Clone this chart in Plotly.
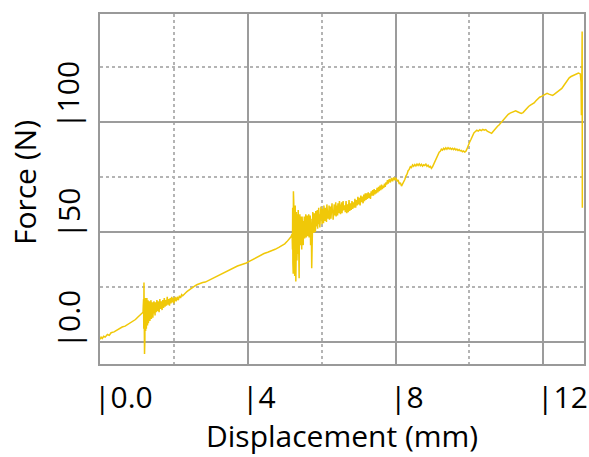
import plotly.graph_objects as go

# Force–displacement record, as (displacement mm, force N) pairs, split by test phase
preload = [
    (0.00, 1.2), (0.03, 2.2), (0.06, 1.6), (0.10, 2.6), (0.14, 2.2), (0.20, 3.4), (0.25, 3.0), (0.30, 4.2),
    (0.38, 4.6), (0.45, 5.4), (0.52, 5.9), (0.60, 6.8), (0.68, 7.2), (0.75, 7.9), (0.82, 8.6), (0.90, 9.6),
    (0.96, 10.2), (1.02, 11.2), (1.08, 12.0), (1.13, 12.8), (1.16, 13.2),
]

first_slip = [
    (1.165, 13.5), (1.17, 16.0), (1.175, 9.0), (1.18, 19.5), (1.185, 6.0), (1.19, 27.0), (1.195, 2.0),
    (1.20, 23.0), (1.205, -5.5), (1.21, 21.0), (1.215, 1.0), (1.22, 19.0), (1.225, 6.5), (1.23, 20.0),
    (1.235, 5.0), (1.24, 18.5), (1.245, 7.5), (1.25, 19.5), (1.255, 6.0), (1.26, 17.0), (1.265, 8.5),
    (1.27, 20.0), (1.275, 9.0), (1.28, 16.5), (1.285, 7.5), (1.29, 18.0), (1.295, 10.0), (1.30, 19.0),
    (1.31, 8.5), (1.32, 17.5), (1.33, 10.5), (1.34, 18.5), (1.35, 9.5), (1.36, 16.0), (1.37, 11.5),
    (1.38, 19.0), (1.39, 10.5), (1.40, 17.0), (1.41, 12.0), (1.42, 18.0), (1.43, 11.0), (1.44, 17.5),
    (1.45, 12.5), (1.46, 18.5), (1.47, 13.0), (1.48, 16.5), (1.49, 12.0), (1.50, 18.0), (1.51, 15.0),
    (1.52, 13.5), (1.53, 17.0), (1.54, 19.0), (1.55, 15.5), (1.56, 14.0), (1.57, 18.5), (1.58, 17.5),
    (1.59, 16.0), (1.60, 13.5), (1.61, 17.5), (1.62, 19.5), (1.63, 16.5), (1.64, 15.0), (1.65, 17.0),
    (1.66, 18.5), (1.67, 16.0), (1.68, 14.5), (1.69, 18.0), (1.70, 19.0), (1.71, 17.0), (1.72, 15.5),
    (1.73, 18.0), (1.74, 20.0), (1.75, 18.5), (1.76, 16.0), (1.77, 17.5), (1.78, 19.0), (1.79, 18.0),
    (1.80, 16.5), (1.82, 20.5), (1.84, 17.0), (1.86, 19.5), (1.88, 16.5), (1.90, 20.0), (1.92, 17.5),
    (1.94, 20.5), (1.96, 18.0), (1.98, 20.0), (2.00, 17.5), (2.03, 20.5), (2.06, 18.5), (2.09, 20.5),
    (2.12, 19.0), (2.15, 21.0), (2.18, 20.0), (2.21, 21.5), (2.24, 21.0), (2.28, 22.0),
]

ramp = [
    (2.32, 22.4), (2.36, 23.0), (2.42, 23.8), (2.48, 24.6), (2.55, 25.3), (2.62, 26.0), (2.70, 26.6),
    (2.78, 27.0), (2.85, 27.2), (2.92, 27.8), (3.00, 28.4), (3.08, 29.0), (3.16, 29.8), (3.24, 30.6),
    (3.32, 31.4), (3.40, 32.0), (3.48, 32.8), (3.56, 33.4), (3.64, 33.9), (3.72, 34.5), (3.80, 35.0),
    (3.88, 35.4), (3.96, 35.9), (4.04, 36.6), (4.14, 37.5), (4.24, 38.6), (4.34, 39.4), (4.44, 40.2),
    (4.54, 40.8), (4.64, 41.3), (4.74, 42.1), (4.84, 43.0), (4.92, 43.8), (5.00, 44.6), (5.06, 45.6),
    (5.12, 46.6), (5.17, 47.8),
]

second_slip = [
    (5.20, 49.0), (5.205, 56.0), (5.21, 42.0), (5.215, 61.0), (5.22, 36.0), (5.225, 66.0), (5.23, 31.0),
    (5.235, 68.5), (5.24, 38.0), (5.245, 63.0), (5.25, 34.0), (5.255, 60.0), (5.26, 40.0), (5.265, 58.0),
    (5.27, 30.0), (5.275, 57.0), (5.28, 42.0), (5.285, 62.0), (5.29, 44.0), (5.295, 55.0), (5.30, 27.5),
    (5.305, 54.0), (5.31, 41.0), (5.315, 59.0), (5.32, 45.0), (5.325, 56.0), (5.33, 37.0), (5.335, 57.0),
    (5.34, 46.0), (5.345, 55.0), (5.35, 43.0), (5.355, 58.0), (5.36, 40.0), (5.365, 60.0), (5.37, 46.0),
    (5.375, 52.0), (5.38, 44.0), (5.385, 56.0), (5.39, 29.0), (5.395, 53.0), (5.40, 47.0), (5.41, 58.0),
    (5.42, 44.0), (5.43, 57.0), (5.44, 45.0), (5.45, 55.0), (5.46, 42.0), (5.47, 57.0), (5.48, 46.0),
    (5.49, 56.5), (5.50, 44.0), (5.51, 55.0), (5.52, 48.5), (5.53, 57.0), (5.54, 47.0), (5.55, 55.5),
    (5.56, 48.0), (5.57, 58.0), (5.58, 47.5), (5.59, 56.0), (5.60, 49.0), (5.61, 57.5),
    (5.62, 48.0), (5.63, 55.5), (5.64, 51.0), (5.65, 58.0), (5.66, 47.5), (5.67, 54.0), (5.68, 52.0),
    (5.69, 57.5), (5.70, 44.0), (5.71, 56.0), (5.72, 50.5), (5.73, 33.5), (5.74, 55.0), (5.75, 51.5),
    (5.76, 59.0), (5.77, 53.0), (5.78, 55.5), (5.79, 49.5), (5.80, 58.5), (5.81, 54.0), (5.82, 56.0),
    (5.83, 50.0), (5.84, 59.5), (5.85, 52.5), (5.86, 57.0), (5.87, 55.5), (5.88, 60.0), (5.89, 51.5),
    (5.90, 56.5), (5.91, 54.0), (5.92, 61.0), (5.93, 53.5), (5.94, 58.0), (5.95, 52.0), (5.96, 57.5),
    (5.97, 55.0), (5.98, 61.5), (5.99, 56.0), (6.00, 58.5), (6.01, 53.5), (6.02, 60.5), (6.03, 57.0),
    (6.04, 59.0), (6.05, 54.0), (6.06, 62.0), (6.07, 56.5), (6.08, 58.0), (6.09, 55.0), (6.10, 61.0),
    (6.11, 57.5), (6.12, 59.5), (6.13, 54.5), (6.14, 62.5), (6.15, 57.0), (6.16, 60.0), (6.17, 56.0),
    (6.18, 59.0), (6.19, 57.5), (6.20, 62.0), (6.21, 55.5), (6.22, 60.5), (6.23, 58.0), (6.24, 61.5),
    (6.25, 56.0), (6.26, 59.5), (6.27, 57.0), (6.28, 63.0), (6.29, 58.5), (6.30, 60.0), (6.31, 55.5),
    (6.32, 61.5), (6.33, 59.0), (6.34, 62.5), (6.35, 57.5), (6.36, 60.5), (6.37, 58.0), (6.38, 63.5),
    (6.39, 57.0), (6.40, 61.0), (6.41, 59.5), (6.42, 62.0), (6.43, 57.5), (6.44, 63.0), (6.45, 59.0),
    (6.46, 61.5), (6.47, 58.5), (6.48, 64.0), (6.49, 59.5), (6.50, 61.5), (6.51, 58.0), (6.52, 62.5),
    (6.53, 60.0), (6.54, 63.5), (6.55, 58.5), (6.56, 61.0), (6.57, 59.5), (6.58, 64.0), (6.59, 60.0),
    (6.60, 62.0), (6.62, 61.5), (6.64, 59.0), (6.66, 64.0), (6.68, 58.5), (6.70, 62.5), (6.72, 59.0),
    (6.74, 64.5), (6.76, 59.5), (6.78, 63.0), (6.80, 60.0), (6.82, 64.0), (6.84, 60.5), (6.86, 63.5),
    (6.88, 61.0), (6.90, 65.0), (6.92, 61.0), (6.94, 64.5), (6.96, 62.0), (6.98, 66.0), (7.00, 62.5),
    (7.02, 65.5), (7.04, 62.0), (7.06, 66.5), (7.08, 63.5), (7.10, 66.0), (7.12, 63.0), (7.14, 67.0),
    (7.16, 64.0), (7.18, 67.5), (7.20, 64.5), (7.22, 67.5), (7.24, 65.0), (7.26, 68.0), (7.28, 65.5),
    (7.30, 67.5), (7.32, 65.0), (7.34, 68.5), (7.36, 66.5), (7.38, 69.0), (7.40, 66.5), (7.42, 69.5),
    (7.44, 67.0), (7.46, 69.0), (7.48, 67.5), (7.50, 70.0), (7.52, 68.0), (7.54, 70.5), (7.56, 68.5),
    (7.58, 71.0), (7.60, 69.0), (7.62, 71.5), (7.64, 69.5), (7.66, 71.0), (7.68, 70.0), (7.70, 72.0),
    (7.72, 70.5), (7.74, 72.5), (7.76, 71.5), (7.78, 73.5), (7.80, 72.0),
]

hardening = [
    (7.83, 74.0), (7.86, 72.5), (7.89, 74.5), (7.92, 73.0), (7.95, 74.8), (7.98, 73.5), (8.01, 74.6),
    (8.04, 73.0), (8.07, 73.6), (8.10, 71.8), (8.13, 72.4), (8.16, 70.8), (8.19, 71.6), (8.22, 72.8),
    (8.25, 73.8), (8.28, 75.4), (8.31, 76.2), (8.34, 77.8), (8.37, 78.4), (8.40, 79.6), (8.43, 79.2),
    (8.46, 80.4), (8.49, 79.8), (8.52, 80.6), (8.55, 80.0), (8.58, 80.8), (8.61, 80.2), (8.64, 80.9),
    (8.67, 80.1), (8.70, 80.7), (8.73, 79.9), (8.76, 80.5), (8.79, 80.2), (8.82, 80.8), (8.85, 79.8),
    (8.88, 80.3), (8.91, 79.4), (8.94, 79.8), (8.97, 78.9), (9.00, 79.6), (9.03, 80.8), (9.06, 82.2),
    (9.09, 83.0), (9.12, 84.4), (9.15, 85.0), (9.18, 86.2), (9.21, 86.6), (9.24, 87.6), (9.27, 87.2),
    (9.30, 88.0), (9.33, 87.4), (9.36, 88.2), (9.39, 87.6), (9.42, 88.3), (9.45, 87.7), (9.48, 88.1),
    (9.51, 87.5), (9.54, 88.0), (9.57, 87.4), (9.60, 87.9), (9.63, 87.2), (9.66, 87.6), (9.69, 87.0),
    (9.72, 87.4), (9.75, 86.8), (9.78, 87.0), (9.81, 86.4), (9.84, 86.8), (9.87, 86.3), (9.90, 86.6),
    (9.93, 87.6), (9.96, 89.2), (10.00, 90.6), (10.04, 92.0), (10.08, 93.4), (10.12, 95.0), (10.16, 95.6),
    (10.20, 96.2), (10.24, 95.8), (10.28, 96.4), (10.32, 96.0), (10.36, 96.6), (10.40, 96.2), (10.44, 96.5),
    (10.48, 95.8), (10.52, 95.4), (10.56, 95.0), (10.60, 94.8), (10.64, 95.6), (10.68, 96.6), (10.72, 97.4),
    (10.76, 98.0), (10.80, 98.6), (10.85, 99.6), (10.90, 100.8), (10.95, 101.8), (11.00, 102.6),
    (11.05, 103.4), (11.10, 104.0), (11.15, 104.4), (11.20, 104.8), (11.25, 105.0), (11.30, 104.6),
    (11.35, 104.0), (11.40, 103.8), (11.45, 104.2), (11.50, 105.2), (11.55, 106.2), (11.60, 107.0),
    (11.65, 107.6), (11.70, 108.0), (11.75, 108.6), (11.80, 109.6), (11.85, 110.6), (11.90, 111.2),
    (11.95, 111.6), (12.00, 112.2), (12.05, 112.8), (12.10, 113.0), (12.15, 112.6), (12.20, 112.2),
    (12.25, 112.0), (12.30, 112.6), (12.35, 113.2), (12.40, 113.8), (12.45, 114.4), (12.50, 115.2),
    (12.55, 116.4), (12.60, 117.8), (12.65, 119.0), (12.70, 120.0), (12.75, 120.6), (12.80, 121.0),
    (12.85, 121.4), (12.90, 121.8), (12.95, 122.2), (13.00, 121.8),
]

failure = [(13.02, 118.0), (13.03, 103.0), (13.04, 110.0), (13.05, 141.0), (13.055, 61.0)]

x_tick_vals = [0, 4, 8, 12]
x_tick_text = ["|0.0", "|4", "|8", "|12"]
x_minor_vals = [2, 6, 10]
y_tick_vals = [0, 50, 100]
y_tick_text = ["|0.0", "|50", "|100"]
y_minor_vals = [25, 75, 125]

record = preload + first_slip + ramp + second_slip + hardening + failure
displacement = [p[0] for p in record]
force = [p[1] for p in record]

FONT = "Open Sans"
LINE_COLOR = "#F0C808"

fig = go.Figure()
fig.add_trace(go.Scatter(
    x=displacement, y=force, mode="lines",
    line=dict(color=LINE_COLOR, width=1.5),
    hoverinfo="skip",
))

fig.update_xaxes(
    range=[0, 13.1], tickvals=x_tick_vals, showticklabels=False, ticks="",
    showgrid=True, gridcolor="#9c9c9c", gridwidth=1.5,
    minor=dict(tickvals=x_minor_vals, showgrid=True, gridcolor="#b4b4b4", gridwidth=1.5, griddash="dot"),
    showline=True, mirror=True, linecolor="#999999", linewidth=2, zeroline=False,
)
fig.update_yaxes(
    range=[-10, 149], tickvals=y_tick_vals, showticklabels=False, ticks="",
    showgrid=True, gridcolor="#9c9c9c", gridwidth=1.5,
    minor=dict(tickvals=y_minor_vals, showgrid=True, gridcolor="#b4b4b4", gridwidth=1.5, griddash="dot"),
    showline=True, mirror=True, linecolor="#999999", linewidth=2, zeroline=False,
)

label_font = dict(family=FONT, size=30, color="black")

# Tick labels: the bar glyph sits on the tick position
for v, t in zip(x_tick_vals, x_tick_text):
    fig.add_annotation(x=v, y=0, xref="x", yref="paper", text=t, showarrow=False,
                       xanchor="left", yanchor="middle", xshift=-8, yshift=-32, font=label_font)
for v, t in zip(y_tick_vals, y_tick_text):
    fig.add_annotation(x=0, y=v, xref="paper", yref="y", text=t, showarrow=False, textangle=-90,
                       xanchor="center", yanchor="bottom", xshift=-32, yshift=-9, font=label_font)

# Axis titles
fig.add_annotation(x=0.5, y=0, xref="paper", yref="paper", text="Displacement (mm)", showarrow=False,
                   xanchor="center", yanchor="middle", yshift=-71, font=label_font)
fig.add_annotation(x=0, y=0.517, xref="paper", yref="paper", text="Force (N)", showarrow=False, textangle=-90,
                   xanchor="center", yanchor="middle", xshift=-76, font=label_font)

fig.update_layout(
    width=589, height=457,
    margin=dict(l=100, r=3, t=14, b=93),
    plot_bgcolor="white", paper_bgcolor="white",
    showlegend=False,
)

fig.write_html("out.html")
